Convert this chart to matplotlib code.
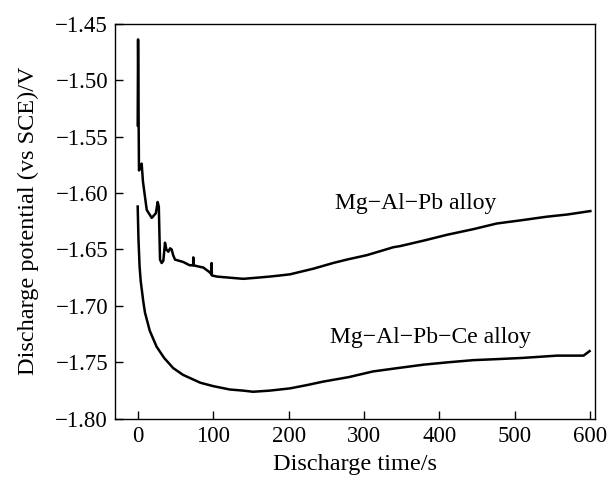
import matplotlib
matplotlib.use("Agg")
import matplotlib.pyplot as plt

plt.rcParams["font.family"] = ["Liberation Serif", "DejaVu Serif"]
plt.rcParams["axes.unicode_minus"] = True

# Mg-Al-Pb alloy: discharge time (s) and potential (V vs SCE)
pb_t = [0, 0.5, 1.7, 3.5, 5.3, 7, 12, 18.6, 24, 26.5, 28, 29.6, 31.8, 34, 36.2,
        38, 40.6, 43, 45, 47, 49.5, 60, 69, 73.5, 73.7, 74, 80, 87, 95, 97.8,
        98, 98.3, 105, 122, 140, 158, 175, 189, 202, 233, 259, 277, 304, 339,
        348, 380, 410, 445, 476, 510, 542, 570, 600]
pb_v = [-1.540, -1.464, -1.580, -1.578, -1.574, -1.590, -1.615, -1.622, -1.618,
        -1.608, -1.612, -1.659, -1.662, -1.660, -1.644, -1.650, -1.652, -1.649,
        -1.650, -1.655, -1.659, -1.661, -1.664, -1.664, -1.657, -1.664, -1.665,
        -1.666, -1.670, -1.672, -1.662, -1.673, -1.674, -1.675, -1.676, -1.675,
        -1.674, -1.673, -1.672, -1.667, -1.662, -1.659, -1.655, -1.648, -1.647,
        -1.642, -1.637, -1.632, -1.627, -1.624, -1.621, -1.619, -1.616]

# Mg-Al-Pb-Ce alloy
ce_t = [0, 1, 2.5, 4, 7.4, 9.7, 16, 25, 35, 47, 60, 83, 100, 122, 140, 153, 175,
        202, 225, 246, 280, 312, 345, 379, 410, 445, 480, 511, 556, 591, 599]
ce_v = [-1.612, -1.640, -1.665, -1.678, -1.696, -1.706, -1.722, -1.736, -1.746,
        -1.755, -1.761, -1.768, -1.771, -1.774, -1.775, -1.776, -1.775, -1.773,
        -1.770, -1.767, -1.763, -1.758, -1.755, -1.752, -1.750, -1.748, -1.747,
        -1.746, -1.744, -1.744, -1.740]

x_ticks = [0, 100, 200, 300, 400, 500, 600]
y_ticks = [-1.80, -1.75, -1.70, -1.65, -1.60, -1.55, -1.50, -1.45]

fig = plt.figure(figsize=(6.12, 4.82), dpi=100)
ax = fig.add_axes([0.188, 0.131, 0.784, 0.820])

ax.plot(pb_t, pb_v, color="black", lw=1.8)
ax.plot(ce_t, ce_v, color="black", lw=1.8)

ax.text(262, -1.609, "Mg\u2212Al\u2212Pb alloy", fontsize=17, va="center", ha="left")
ax.text(255, -1.728, "Mg\u2212Al\u2212Pb\u2212Ce alloy", fontsize=17, va="center", ha="left")

ax.set_xlim(-30, 606)
ax.set_ylim(-1.80, -1.45)
ax.set_xticks(x_ticks)
ax.set_yticks(y_ticks)
ax.set_yticklabels([f"{v:.2f}".replace("-", "\u2212") for v in y_ticks])
ax.tick_params(direction="in", length=6, width=1, labelsize=16.5, pad=5)
for s in ax.spines.values():
    s.set_linewidth(1.0)

ax.set_xlabel("Discharge time/s", fontsize=17.5, labelpad=5)
ax.set_ylabel("Discharge potential (vs SCE)/V", fontsize=17.5, labelpad=12)

fig.savefig("out.png", dpi=100)
